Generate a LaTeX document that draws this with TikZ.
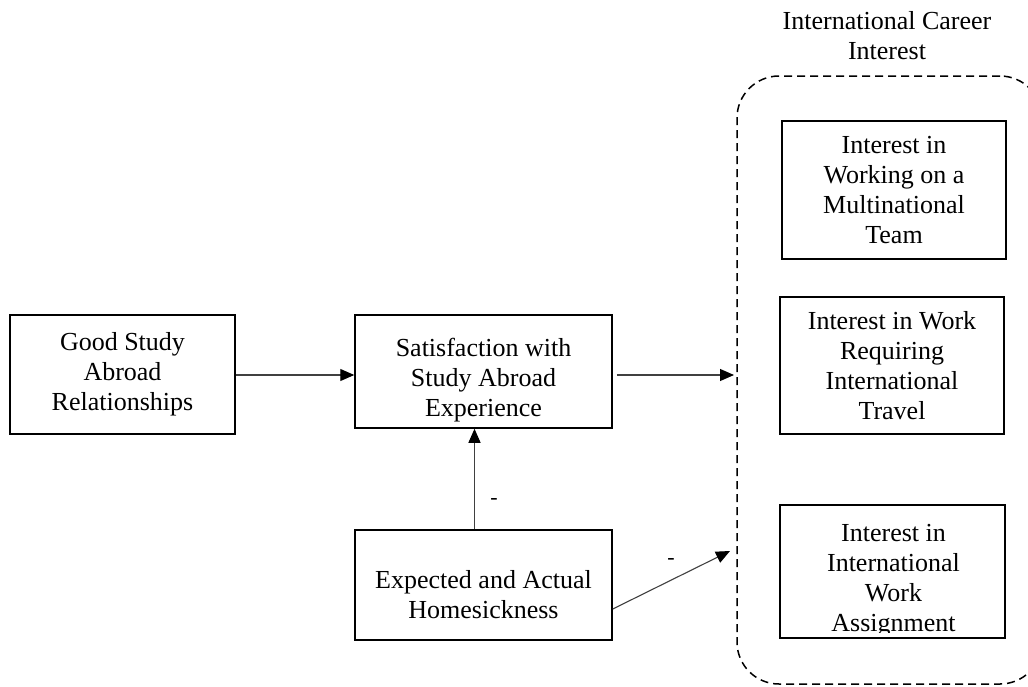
\documentclass[tikz,border=0pt]{standalone}
\usepackage{fontspec}
\setmainfont{Liberation Serif}
\usetikzlibrary{arrows.meta}
\begin{document}
\begin{tikzpicture}[x=1pt,y=-1pt,
  txt/.style={font=\fontsize{26}{30}\selectfont, align=center, inner sep=0pt},
  box/.style={txt, draw=black, line width=1.5pt},
  arr/.style={draw=black!75, line width=1.1pt, -{Triangle[length=14pt,width=12pt,color=black]}},
  sign/.style={font=\fontsize{22}{26}\selectfont, inner sep=0pt},
  group/.style={draw=black, line width=1.5pt, dash pattern=on 8pt off 5pt, rounded corners=42pt, inner sep=0pt}
]
\useasboundingbox (0,0) rectangle (1028,686);
\fill[white] (0,0) rectangle (1028,686);

% container
\node[group, minimum width=305pt, minimum height=608pt] (G) at (889.5,380) {};
\node[txt] (title) at (887,36) {International Career\\Interest};

% left boxes
\node[box, minimum width=225pt, minimum height=119pt] (A) at (122.5,374.5) {Good Study\\Abroad\\Relationships};
\node[box, minimum width=257pt, minimum height=113pt,
      label={[txt, yshift=-9pt]center:{Satisfaction with\\Study Abroad\\Experience}}] (B) at (483.5,371.5) {};
\node[box, minimum width=257pt, minimum height=110pt,
      label={[txt, yshift=-10pt]center:{Expected and Actual\\Homesickness}}] (C) at (483.5,585) {};

% right boxes
\node[box, minimum width=224pt, minimum height=138pt] (D1) at (894,190) {Interest in\\Working on a\\Multinational\\Team};
\node[box, minimum width=224pt, minimum height=137pt] (D2) at (892,365.5) {Interest in Work\\Requiring\\International\\Travel};
\node[box, minimum width=225pt, minimum height=133pt] (D3) at (892.5,571.5) {};
\begin{scope}
  \clip (781,506) rectangle (1004,632);
  \node[txt] (D3t) at (893.5,581) {Interest in\\International\\Work\\Assignment};
\end{scope}

% free ends on the container
\coordinate (t1) at (734,375);
\coordinate (t2) at (730,551);

% connectors
\draw[arr] (A.east |- t1) -- (B.west |- t1);
\draw[arr] ([xshift=4pt]B.east |- t1) -- (t1);
\draw[arr] ([xshift=-9pt]C.north) -- ([xshift=-9pt]B.south);
\draw[arr] ([yshift=-24pt]C.east) -- (t2);

% signs
\node[sign] (s1) at (494,501) {-};
\node[sign] (s2) at (671,561) {-};
\end{tikzpicture}
\end{document}
